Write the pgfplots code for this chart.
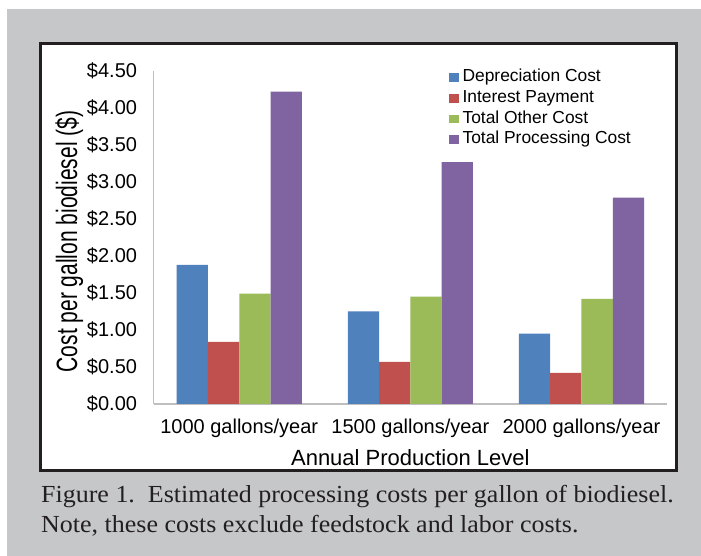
\documentclass[border=0pt]{standalone}
\usepackage{fontspec}
\setmainfont{Liberation Sans}
\newfontfamily\capfont[FakeStretch=1.06]{Liberation Serif}
\usepackage{pgfplots}
\pgfplotsset{compat=1.18}
\definecolor{bgray}{HTML}{C6C7C9}
\definecolor{cblue}{HTML}{4F81BD}
\definecolor{cred}{HTML}{C0504D}
\definecolor{cgreen}{HTML}{9BBB59}
\definecolor{cpurple}{HTML}{8064A2}
\definecolor{axgray}{HTML}{BFBFBF}
\definecolor{frame}{HTML}{231F20}
\begin{document}
\begin{tikzpicture}[x=1bp,y=1bp]
\useasboundingbox (0,0) rectangle (701,556);
\fill[white] (0,0) rectangle (701,556);
\fill[bgray] (7,0) rectangle (701,547);
\draw[frame, line width=3bp, fill=white] (40.5,85.5) rectangle (676.5,512.5);
\begin{axis}[
  at={(153.7bp,152bp)}, anchor=south west,
  scale only axis, width=513.3bp, height=333bp,
  ybar=0pt, bar width=31.3bp,
  xmin=-0.5, xmax=2.5, ymin=0, ymax=4.5,
  xtick={0,1,2},
  xticklabels={1000 gallons/year, 1500 gallons/year, 2000 gallons/year},
  ytick={0,0.5,1,1.5,2,2.5,3,3.5,4,4.5},
  yticklabels={\$0.00,\$0.50,\$1.00,\$1.50,\$2.00,\$2.50,\$3.00,\$3.50,\$4.00,\$4.50},
  axis lines*=left,
  axis line style={axgray, line width=1.5bp},
  major tick length=0pt,
  tick label style={font=\fontsize{20bp}{24bp}\selectfont},
  yticklabel style={anchor=east, inner sep=0pt, xshift=-16.5bp},
  xticklabel style={anchor=north, inner sep=0pt, yshift=-15bp},
  xlabel={Annual Production Level},
  ylabel={\scalebox{1}[1.4]{Cost per gallon biodiesel (\$)}},
  xlabel style={font=\fontsize{22bp}{26bp}\selectfont, at={(axis description cs:0.5,-0.186)}, anchor=base},
  ylabel style={font=\fontsize{21bp}{24bp}\selectfont, at={(axis description cs:-0.1494,0.488)}, anchor=base},
  legend style={at={(0.575,1.007)}, anchor=north west, draw=none, fill=none,
    inner sep=0pt, row sep=3.7bp, column sep=4bp,
    font=\fontsize{17.4bp}{20bp}\selectfont,
    nodes={inner sep=0pt, text height=13bp, text depth=4bp, anchor=base west}},
  legend cell align=left,
  legend image code/.code={\fill[#1] (0bp,0bp) rectangle (9.5bp,8.5bp);},
]
\addplot[fill=cblue, draw=none] coordinates {(0,1.88) (1,1.25) (2,0.95)};
\addplot[fill=cred, draw=none] coordinates {(0,0.84) (1,0.57) (2,0.42)};
\addplot[fill=cgreen, draw=none] coordinates {(0,1.49) (1,1.45) (2,1.42)};
\addplot[fill=cpurple, draw=none] coordinates {(0,4.22) (1,3.27) (2,2.79)};
\legend{Depreciation Cost, Interest Payment, Total Other Cost, Total Processing Cost}
\end{axis}
\node[anchor=base west, inner sep=0pt, text=frame, font=\capfont\fontsize{24.5bp}{28bp}\selectfont] at (41,53) {Figure 1.\ \ Estimated processing costs per gallon of biodiesel.};
\node[anchor=base west, inner sep=0pt, text=frame, font=\capfont\fontsize{24.5bp}{28bp}\selectfont] at (41,23) {Note, these costs exclude feedstock and labor costs.};
\end{tikzpicture}
\end{document}
